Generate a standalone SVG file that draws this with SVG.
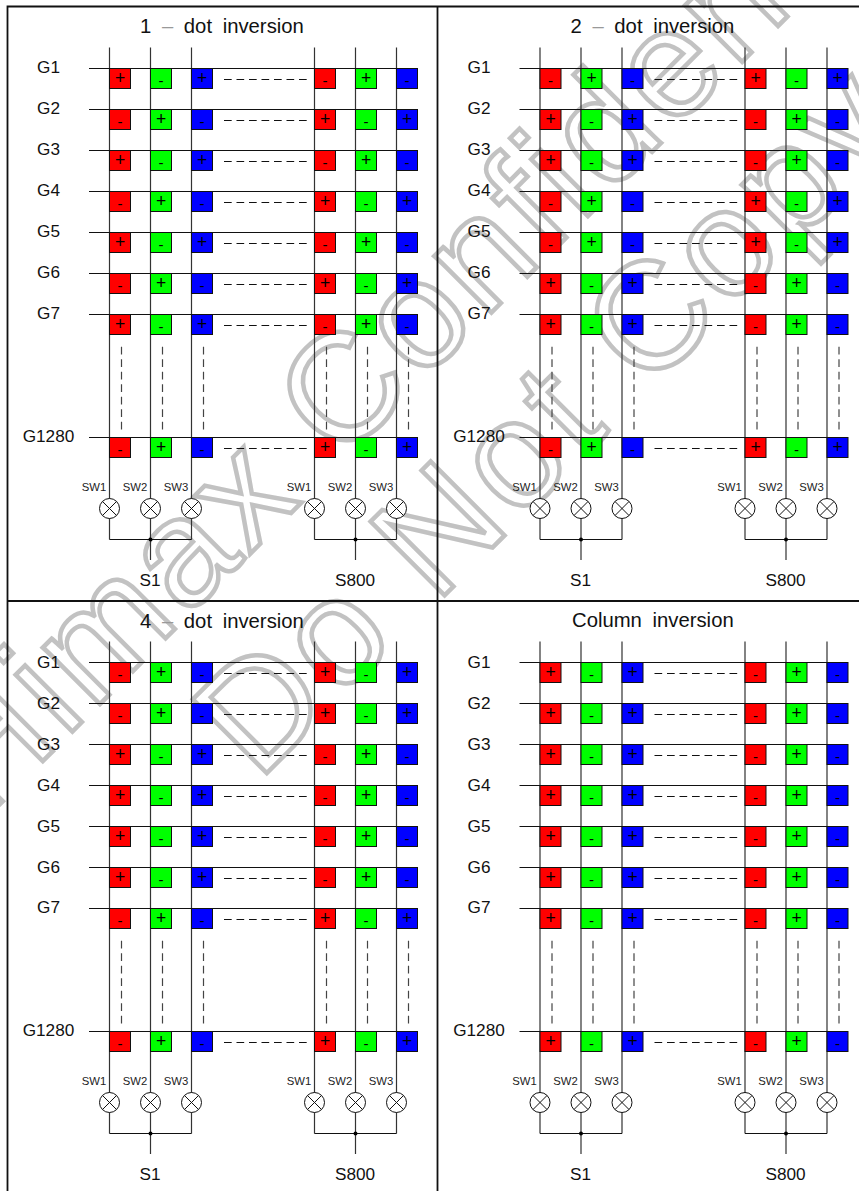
<svg xmlns="http://www.w3.org/2000/svg" width="859" height="1191" viewBox="0 0 859 1191">
<style>
text{font-family:"Liberation Sans",Arial,sans-serif;fill:#111}
.wm{font-size:152px;letter-spacing:5px;fill:none;stroke:#c2c2c2;stroke-width:4.5}
.t{font-size:20.3px;word-spacing:5px}
.d{fill:#999}
.g{font-size:17.2px;text-anchor:middle}
.s{font-size:17.2px;text-anchor:middle}
.w{font-size:11.3px;text-anchor:middle;fill:#222}
.p{font-size:17.5px;text-anchor:middle;fill:#000}
.m{font-size:15px;text-anchor:middle;fill:#000}
.r,.n,.b{stroke:#111;stroke-width:1}
.r{fill:#f00}.n{fill:#0f0}.b{fill:#00f}
.f{stroke:#111;stroke-width:1.8;fill:none}
.h{stroke:#111;stroke-width:1;fill:none}
.v{stroke:#333;stroke-width:1.2;fill:none}
.hd{stroke:#111;stroke-width:1;stroke-dasharray:7.7 4.8;fill:none}
.vd{stroke:#444;stroke-width:1.2;stroke-dasharray:7.7 4.8;fill:none}
.c{fill:#fff;stroke:#111;stroke-width:1}
.x{stroke:#111;stroke-width:1;fill:none}
</style>
<g id="watermark">
<text class="wm" transform="translate(-16 820) rotate(-45)">Himax Confidential</text>
<text class="wm" transform="translate(258 782) rotate(-45)">Do Not Copy</text>
</g>
<g id="frame"><path class="f" d="M859 6.5H7.5V1191M437.5 6.5V1191M7.5 601H859"/></g>

<g id="panelA">
<text id="a-title" class="t" x="140" y="33">1 <tspan class="d">–</tspan> dot inversion</text>
<g id="a-connectors">
<path class="v" d="M109.5 47.5V539.5M150.5 47.5V560M191.5 47.5V539.5M314.5 47.5V539.5M355.5 47.5V560M396.5 47.5V539.5"/>
<path class="h" d="M89 68.5H417M89 109.5H417M89 150.5H417M89 191.5H417M89 232.5H417M89 273.5H417M89 314.5H417M89 437.5H417M109.5 539.5H191.5M314.5 539.5H396.5"/>
<path class="hd" d="M224 79.500H307M224 120.500H307M224 161.500H307M224 202.500H307M224 243.500H307M224 284.500H307M224 325.500H307M224 448.500H307"/>
<path class="vd" d="M121.5 346.7V429.4M162.5 346.7V429.4M203.5 346.7V429.4M326.5 346.7V429.4M367.5 346.7V429.4M408.5 346.7V429.4"/>
<circle cx="150.5" cy="539.5" r="2"/><circle cx="355.5" cy="539.5" r="2"/>
</g>
<g id="a-gates"><text class="g" x="48.5" y="73">G1</text><text class="g" x="48.5" y="114">G2</text><text class="g" x="48.5" y="155">G3</text><text class="g" x="48.5" y="196">G4</text><text class="g" x="48.5" y="237">G5</text><text class="g" x="48.5" y="278">G6</text><text class="g" x="48.5" y="319">G7</text><text class="g" x="48.5" y="442">G1280</text></g>
<g id="a1" transform="translate(0 68.5)"><g id="a1c1"><rect class="r" x="109.5" width="21" height="20"/><text class="p" x="120" y="15.400">+</text></g><g id="a1c2"><rect class="n" x="150.5" width="21" height="20"/><text class="m" x="161" y="17">-</text></g><g id="a1c3"><rect class="b" x="191.5" width="21" height="20"/><text class="p" x="202" y="15.400">+</text></g><g id="a1c4"><rect class="r" x="314.5" width="21" height="20"/><text class="m" x="325" y="17">-</text></g><g id="a1c5"><rect class="n" x="355.5" width="21" height="20"/><text class="p" x="366" y="15.400">+</text></g><g id="a1c6"><rect class="b" x="396.5" width="21" height="20"/><text class="m" x="407" y="17">-</text></g></g>
<g id="a2" transform="translate(0 109.5)"><g id="a2c1"><rect class="r" x="109.5" width="21" height="20"/><text class="m" x="120" y="17">-</text></g><g id="a2c2"><rect class="n" x="150.5" width="21" height="20"/><text class="p" x="161" y="15.400">+</text></g><g id="a2c3"><rect class="b" x="191.5" width="21" height="20"/><text class="m" x="202" y="17">-</text></g><g id="a2c4"><rect class="r" x="314.5" width="21" height="20"/><text class="p" x="325" y="15.400">+</text></g><g id="a2c5"><rect class="n" x="355.5" width="21" height="20"/><text class="m" x="366" y="17">-</text></g><g id="a2c6"><rect class="b" x="396.5" width="21" height="20"/><text class="p" x="407" y="15.400">+</text></g></g>
<g id="a3" transform="translate(0 150.5)"><g id="a3c1"><rect class="r" x="109.5" width="21" height="20"/><text class="p" x="120" y="15.400">+</text></g><g id="a3c2"><rect class="n" x="150.5" width="21" height="20"/><text class="m" x="161" y="17">-</text></g><g id="a3c3"><rect class="b" x="191.5" width="21" height="20"/><text class="p" x="202" y="15.400">+</text></g><g id="a3c4"><rect class="r" x="314.5" width="21" height="20"/><text class="m" x="325" y="17">-</text></g><g id="a3c5"><rect class="n" x="355.5" width="21" height="20"/><text class="p" x="366" y="15.400">+</text></g><g id="a3c6"><rect class="b" x="396.5" width="21" height="20"/><text class="m" x="407" y="17">-</text></g></g>
<g id="a4" transform="translate(0 191.5)"><g id="a4c1"><rect class="r" x="109.5" width="21" height="20"/><text class="m" x="120" y="17">-</text></g><g id="a4c2"><rect class="n" x="150.5" width="21" height="20"/><text class="p" x="161" y="15.400">+</text></g><g id="a4c3"><rect class="b" x="191.5" width="21" height="20"/><text class="m" x="202" y="17">-</text></g><g id="a4c4"><rect class="r" x="314.5" width="21" height="20"/><text class="p" x="325" y="15.400">+</text></g><g id="a4c5"><rect class="n" x="355.5" width="21" height="20"/><text class="m" x="366" y="17">-</text></g><g id="a4c6"><rect class="b" x="396.5" width="21" height="20"/><text class="p" x="407" y="15.400">+</text></g></g>
<g id="a5" transform="translate(0 232.5)"><g id="a5c1"><rect class="r" x="109.5" width="21" height="20"/><text class="p" x="120" y="15.400">+</text></g><g id="a5c2"><rect class="n" x="150.5" width="21" height="20"/><text class="m" x="161" y="17">-</text></g><g id="a5c3"><rect class="b" x="191.5" width="21" height="20"/><text class="p" x="202" y="15.400">+</text></g><g id="a5c4"><rect class="r" x="314.5" width="21" height="20"/><text class="m" x="325" y="17">-</text></g><g id="a5c5"><rect class="n" x="355.5" width="21" height="20"/><text class="p" x="366" y="15.400">+</text></g><g id="a5c6"><rect class="b" x="396.5" width="21" height="20"/><text class="m" x="407" y="17">-</text></g></g>
<g id="a6" transform="translate(0 273.5)"><g id="a6c1"><rect class="r" x="109.5" width="21" height="20"/><text class="m" x="120" y="17">-</text></g><g id="a6c2"><rect class="n" x="150.5" width="21" height="20"/><text class="p" x="161" y="15.400">+</text></g><g id="a6c3"><rect class="b" x="191.5" width="21" height="20"/><text class="m" x="202" y="17">-</text></g><g id="a6c4"><rect class="r" x="314.5" width="21" height="20"/><text class="p" x="325" y="15.400">+</text></g><g id="a6c5"><rect class="n" x="355.5" width="21" height="20"/><text class="m" x="366" y="17">-</text></g><g id="a6c6"><rect class="b" x="396.5" width="21" height="20"/><text class="p" x="407" y="15.400">+</text></g></g>
<g id="a7" transform="translate(0 314.5)"><g id="a7c1"><rect class="r" x="109.5" width="21" height="20"/><text class="p" x="120" y="15.400">+</text></g><g id="a7c2"><rect class="n" x="150.5" width="21" height="20"/><text class="m" x="161" y="17">-</text></g><g id="a7c3"><rect class="b" x="191.5" width="21" height="20"/><text class="p" x="202" y="15.400">+</text></g><g id="a7c4"><rect class="r" x="314.5" width="21" height="20"/><text class="m" x="325" y="17">-</text></g><g id="a7c5"><rect class="n" x="355.5" width="21" height="20"/><text class="p" x="366" y="15.400">+</text></g><g id="a7c6"><rect class="b" x="396.5" width="21" height="20"/><text class="m" x="407" y="17">-</text></g></g>
<g id="a8" transform="translate(0 437.5)"><g id="a8c1"><rect class="r" x="109.5" width="21" height="20"/><text class="m" x="120" y="17">-</text></g><g id="a8c2"><rect class="n" x="150.5" width="21" height="20"/><text class="p" x="161" y="15.400">+</text></g><g id="a8c3"><rect class="b" x="191.5" width="21" height="20"/><text class="m" x="202" y="17">-</text></g><g id="a8c4"><rect class="r" x="314.5" width="21" height="20"/><text class="p" x="325" y="15.400">+</text></g><g id="a8c5"><rect class="n" x="355.5" width="21" height="20"/><text class="m" x="366" y="17">-</text></g><g id="a8c6"><rect class="b" x="396.5" width="21" height="20"/><text class="p" x="407" y="15.400">+</text></g></g>
<g id="a-sw1" transform="translate(109.5 508.5)"><text class="w" x="-15.5" y="-17.5">SW1</text><circle class="c" r="10"/><path class="x" d="M-7-7L7 7M-7 7L7-7"/></g>
<g id="a-sw2" transform="translate(150.5 508.5)"><text class="w" x="-15.5" y="-17.5">SW2</text><circle class="c" r="10"/><path class="x" d="M-7-7L7 7M-7 7L7-7"/></g>
<g id="a-sw3" transform="translate(191.5 508.5)"><text class="w" x="-15.5" y="-17.5">SW3</text><circle class="c" r="10"/><path class="x" d="M-7-7L7 7M-7 7L7-7"/></g>
<g id="a-sw4" transform="translate(314.5 508.5)"><text class="w" x="-15.5" y="-17.5">SW1</text><circle class="c" r="10"/><path class="x" d="M-7-7L7 7M-7 7L7-7"/></g>
<g id="a-sw5" transform="translate(355.5 508.5)"><text class="w" x="-15.5" y="-17.5">SW2</text><circle class="c" r="10"/><path class="x" d="M-7-7L7 7M-7 7L7-7"/></g>
<g id="a-sw6" transform="translate(396.5 508.5)"><text class="w" x="-15.5" y="-17.5">SW3</text><circle class="c" r="10"/><path class="x" d="M-7-7L7 7M-7 7L7-7"/></g>
<text class="s" x="150" y="586">S1</text><text class="s" x="355" y="586">S800</text>
</g>

<g id="panelB" transform="translate(430.5 0)">
<text id="b-title" class="t" x="140" y="33">2 <tspan class="d">–</tspan> dot inversion</text>
<g id="b-connectors">
<path class="v" d="M109.5 47.5V539.5M150.5 47.5V560M191.5 47.5V539.5M314.5 47.5V539.5M355.5 47.5V560M396.5 47.5V539.5"/>
<path class="h" d="M89 68.5H417M89 109.5H417M89 150.5H417M89 191.5H417M89 232.5H417M89 273.5H417M89 314.5H417M89 437.5H417M109.5 539.5H191.5M314.5 539.5H396.5"/>
<path class="hd" d="M224 79.500H307M224 120.500H307M224 161.500H307M224 202.500H307M224 243.500H307M224 284.500H307M224 325.500H307M224 448.500H307"/>
<path class="vd" d="M121.5 346.7V429.4M162.5 346.7V429.4M203.5 346.7V429.4M326.5 346.7V429.4M367.5 346.7V429.4M408.5 346.7V429.4"/>
<circle cx="150.5" cy="539.5" r="2"/><circle cx="355.5" cy="539.5" r="2"/>
</g>
<g id="b-gates"><text class="g" x="48.5" y="73">G1</text><text class="g" x="48.5" y="114">G2</text><text class="g" x="48.5" y="155">G3</text><text class="g" x="48.5" y="196">G4</text><text class="g" x="48.5" y="237">G5</text><text class="g" x="48.5" y="278">G6</text><text class="g" x="48.5" y="319">G7</text><text class="g" x="48.5" y="442">G1280</text></g>
<g id="b1" transform="translate(0 68.5)"><g id="b1c1"><rect class="r" x="109.5" width="21" height="20"/><text class="m" x="120" y="17">-</text></g><g id="b1c2"><rect class="n" x="150.5" width="21" height="20"/><text class="p" x="161" y="15.400">+</text></g><g id="b1c3"><rect class="b" x="191.5" width="21" height="20"/><text class="m" x="202" y="17">-</text></g><g id="b1c4"><rect class="r" x="314.5" width="21" height="20"/><text class="p" x="325" y="15.400">+</text></g><g id="b1c5"><rect class="n" x="355.5" width="21" height="20"/><text class="m" x="366" y="17">-</text></g><g id="b1c6"><rect class="b" x="396.5" width="21" height="20"/><text class="p" x="407" y="15.400">+</text></g></g>
<g id="b2" transform="translate(0 109.5)"><g id="b2c1"><rect class="r" x="109.5" width="21" height="20"/><text class="p" x="120" y="15.400">+</text></g><g id="b2c2"><rect class="n" x="150.5" width="21" height="20"/><text class="m" x="161" y="17">-</text></g><g id="b2c3"><rect class="b" x="191.5" width="21" height="20"/><text class="p" x="202" y="15.400">+</text></g><g id="b2c4"><rect class="r" x="314.5" width="21" height="20"/><text class="m" x="325" y="17">-</text></g><g id="b2c5"><rect class="n" x="355.5" width="21" height="20"/><text class="p" x="366" y="15.400">+</text></g><g id="b2c6"><rect class="b" x="396.5" width="21" height="20"/><text class="m" x="407" y="17">-</text></g></g>
<g id="b3" transform="translate(0 150.5)"><g id="b3c1"><rect class="r" x="109.5" width="21" height="20"/><text class="p" x="120" y="15.400">+</text></g><g id="b3c2"><rect class="n" x="150.5" width="21" height="20"/><text class="m" x="161" y="17">-</text></g><g id="b3c3"><rect class="b" x="191.5" width="21" height="20"/><text class="p" x="202" y="15.400">+</text></g><g id="b3c4"><rect class="r" x="314.5" width="21" height="20"/><text class="m" x="325" y="17">-</text></g><g id="b3c5"><rect class="n" x="355.5" width="21" height="20"/><text class="p" x="366" y="15.400">+</text></g><g id="b3c6"><rect class="b" x="396.5" width="21" height="20"/><text class="m" x="407" y="17">-</text></g></g>
<g id="b4" transform="translate(0 191.5)"><g id="b4c1"><rect class="r" x="109.5" width="21" height="20"/><text class="m" x="120" y="17">-</text></g><g id="b4c2"><rect class="n" x="150.5" width="21" height="20"/><text class="p" x="161" y="15.400">+</text></g><g id="b4c3"><rect class="b" x="191.5" width="21" height="20"/><text class="m" x="202" y="17">-</text></g><g id="b4c4"><rect class="r" x="314.5" width="21" height="20"/><text class="p" x="325" y="15.400">+</text></g><g id="b4c5"><rect class="n" x="355.5" width="21" height="20"/><text class="m" x="366" y="17">-</text></g><g id="b4c6"><rect class="b" x="396.5" width="21" height="20"/><text class="p" x="407" y="15.400">+</text></g></g>
<g id="b5" transform="translate(0 232.5)"><g id="b5c1"><rect class="r" x="109.5" width="21" height="20"/><text class="m" x="120" y="17">-</text></g><g id="b5c2"><rect class="n" x="150.5" width="21" height="20"/><text class="p" x="161" y="15.400">+</text></g><g id="b5c3"><rect class="b" x="191.5" width="21" height="20"/><text class="m" x="202" y="17">-</text></g><g id="b5c4"><rect class="r" x="314.5" width="21" height="20"/><text class="p" x="325" y="15.400">+</text></g><g id="b5c5"><rect class="n" x="355.5" width="21" height="20"/><text class="m" x="366" y="17">-</text></g><g id="b5c6"><rect class="b" x="396.5" width="21" height="20"/><text class="p" x="407" y="15.400">+</text></g></g>
<g id="b6" transform="translate(0 273.5)"><g id="b6c1"><rect class="r" x="109.5" width="21" height="20"/><text class="p" x="120" y="15.400">+</text></g><g id="b6c2"><rect class="n" x="150.5" width="21" height="20"/><text class="m" x="161" y="17">-</text></g><g id="b6c3"><rect class="b" x="191.5" width="21" height="20"/><text class="p" x="202" y="15.400">+</text></g><g id="b6c4"><rect class="r" x="314.5" width="21" height="20"/><text class="m" x="325" y="17">-</text></g><g id="b6c5"><rect class="n" x="355.5" width="21" height="20"/><text class="p" x="366" y="15.400">+</text></g><g id="b6c6"><rect class="b" x="396.5" width="21" height="20"/><text class="m" x="407" y="17">-</text></g></g>
<g id="b7" transform="translate(0 314.5)"><g id="b7c1"><rect class="r" x="109.5" width="21" height="20"/><text class="p" x="120" y="15.400">+</text></g><g id="b7c2"><rect class="n" x="150.5" width="21" height="20"/><text class="m" x="161" y="17">-</text></g><g id="b7c3"><rect class="b" x="191.5" width="21" height="20"/><text class="p" x="202" y="15.400">+</text></g><g id="b7c4"><rect class="r" x="314.5" width="21" height="20"/><text class="m" x="325" y="17">-</text></g><g id="b7c5"><rect class="n" x="355.5" width="21" height="20"/><text class="p" x="366" y="15.400">+</text></g><g id="b7c6"><rect class="b" x="396.5" width="21" height="20"/><text class="m" x="407" y="17">-</text></g></g>
<g id="b8" transform="translate(0 437.5)"><g id="b8c1"><rect class="r" x="109.5" width="21" height="20"/><text class="m" x="120" y="17">-</text></g><g id="b8c2"><rect class="n" x="150.5" width="21" height="20"/><text class="p" x="161" y="15.400">+</text></g><g id="b8c3"><rect class="b" x="191.5" width="21" height="20"/><text class="m" x="202" y="17">-</text></g><g id="b8c4"><rect class="r" x="314.5" width="21" height="20"/><text class="p" x="325" y="15.400">+</text></g><g id="b8c5"><rect class="n" x="355.5" width="21" height="20"/><text class="m" x="366" y="17">-</text></g><g id="b8c6"><rect class="b" x="396.5" width="21" height="20"/><text class="p" x="407" y="15.400">+</text></g></g>
<g id="b-sw1" transform="translate(109.5 508.5)"><text class="w" x="-15.5" y="-17.5">SW1</text><circle class="c" r="10"/><path class="x" d="M-7-7L7 7M-7 7L7-7"/></g>
<g id="b-sw2" transform="translate(150.5 508.5)"><text class="w" x="-15.5" y="-17.5">SW2</text><circle class="c" r="10"/><path class="x" d="M-7-7L7 7M-7 7L7-7"/></g>
<g id="b-sw3" transform="translate(191.5 508.5)"><text class="w" x="-15.5" y="-17.5">SW3</text><circle class="c" r="10"/><path class="x" d="M-7-7L7 7M-7 7L7-7"/></g>
<g id="b-sw4" transform="translate(314.5 508.5)"><text class="w" x="-15.5" y="-17.5">SW1</text><circle class="c" r="10"/><path class="x" d="M-7-7L7 7M-7 7L7-7"/></g>
<g id="b-sw5" transform="translate(355.5 508.5)"><text class="w" x="-15.5" y="-17.5">SW2</text><circle class="c" r="10"/><path class="x" d="M-7-7L7 7M-7 7L7-7"/></g>
<g id="b-sw6" transform="translate(396.5 508.5)"><text class="w" x="-15.5" y="-17.5">SW3</text><circle class="c" r="10"/><path class="x" d="M-7-7L7 7M-7 7L7-7"/></g>
<text class="s" x="150" y="586">S1</text><text class="s" x="355" y="586">S800</text>
</g>

<g id="panelC" transform="translate(0 594)">
<text id="c-title" class="t" x="140" y="34">4 <tspan class="d">–</tspan> dot inversion</text>
<g id="c-connectors">
<path class="v" d="M109.5 47.5V539.5M150.5 47.5V560M191.5 47.5V539.5M314.5 47.5V539.5M355.5 47.5V560M396.5 47.5V539.5"/>
<path class="h" d="M89 68.5H417M89 109.5H417M89 150.5H417M89 191.5H417M89 232.5H417M89 273.5H417M89 314.5H417M89 437.5H417M109.5 539.5H191.5M314.5 539.5H396.5"/>
<path class="hd" d="M224 79.500H307M224 120.500H307M224 161.500H307M224 202.500H307M224 243.500H307M224 284.500H307M224 325.500H307M224 448.500H307"/>
<path class="vd" d="M121.5 346.7V429.4M162.5 346.7V429.4M203.5 346.7V429.4M326.5 346.7V429.4M367.5 346.7V429.4M408.5 346.7V429.4"/>
<circle cx="150.5" cy="539.5" r="2"/><circle cx="355.5" cy="539.5" r="2"/>
</g>
<g id="c-gates"><text class="g" x="48.5" y="74">G1</text><text class="g" x="48.5" y="115">G2</text><text class="g" x="48.5" y="155.500">G3</text><text class="g" x="48.5" y="196.500">G4</text><text class="g" x="48.5" y="237.500">G5</text><text class="g" x="48.5" y="278.500">G6</text><text class="g" x="48.5" y="319">G7</text><text class="g" x="48.5" y="442">G1280</text></g>
<g id="c1" transform="translate(0 68.5)"><g id="c1c1"><rect class="r" x="109.5" width="21" height="20"/><text class="m" x="120" y="17">-</text></g><g id="c1c2"><rect class="n" x="150.5" width="21" height="20"/><text class="p" x="161" y="15.400">+</text></g><g id="c1c3"><rect class="b" x="191.5" width="21" height="20"/><text class="m" x="202" y="17">-</text></g><g id="c1c4"><rect class="r" x="314.5" width="21" height="20"/><text class="p" x="325" y="15.400">+</text></g><g id="c1c5"><rect class="n" x="355.5" width="21" height="20"/><text class="m" x="366" y="17">-</text></g><g id="c1c6"><rect class="b" x="396.5" width="21" height="20"/><text class="p" x="407" y="15.400">+</text></g></g>
<g id="c2" transform="translate(0 109.5)"><g id="c2c1"><rect class="r" x="109.5" width="21" height="20"/><text class="m" x="120" y="17">-</text></g><g id="c2c2"><rect class="n" x="150.5" width="21" height="20"/><text class="p" x="161" y="15.400">+</text></g><g id="c2c3"><rect class="b" x="191.5" width="21" height="20"/><text class="m" x="202" y="17">-</text></g><g id="c2c4"><rect class="r" x="314.5" width="21" height="20"/><text class="p" x="325" y="15.400">+</text></g><g id="c2c5"><rect class="n" x="355.5" width="21" height="20"/><text class="m" x="366" y="17">-</text></g><g id="c2c6"><rect class="b" x="396.5" width="21" height="20"/><text class="p" x="407" y="15.400">+</text></g></g>
<g id="c3" transform="translate(0 150.5)"><g id="c3c1"><rect class="r" x="109.5" width="21" height="20"/><text class="p" x="120" y="15.400">+</text></g><g id="c3c2"><rect class="n" x="150.5" width="21" height="20"/><text class="m" x="161" y="17">-</text></g><g id="c3c3"><rect class="b" x="191.5" width="21" height="20"/><text class="p" x="202" y="15.400">+</text></g><g id="c3c4"><rect class="r" x="314.5" width="21" height="20"/><text class="m" x="325" y="17">-</text></g><g id="c3c5"><rect class="n" x="355.5" width="21" height="20"/><text class="p" x="366" y="15.400">+</text></g><g id="c3c6"><rect class="b" x="396.5" width="21" height="20"/><text class="m" x="407" y="17">-</text></g></g>
<g id="c4" transform="translate(0 191.5)"><g id="c4c1"><rect class="r" x="109.5" width="21" height="20"/><text class="p" x="120" y="15.400">+</text></g><g id="c4c2"><rect class="n" x="150.5" width="21" height="20"/><text class="m" x="161" y="17">-</text></g><g id="c4c3"><rect class="b" x="191.5" width="21" height="20"/><text class="p" x="202" y="15.400">+</text></g><g id="c4c4"><rect class="r" x="314.5" width="21" height="20"/><text class="m" x="325" y="17">-</text></g><g id="c4c5"><rect class="n" x="355.5" width="21" height="20"/><text class="p" x="366" y="15.400">+</text></g><g id="c4c6"><rect class="b" x="396.5" width="21" height="20"/><text class="m" x="407" y="17">-</text></g></g>
<g id="c5" transform="translate(0 232.5)"><g id="c5c1"><rect class="r" x="109.5" width="21" height="20"/><text class="p" x="120" y="15.400">+</text></g><g id="c5c2"><rect class="n" x="150.5" width="21" height="20"/><text class="m" x="161" y="17">-</text></g><g id="c5c3"><rect class="b" x="191.5" width="21" height="20"/><text class="p" x="202" y="15.400">+</text></g><g id="c5c4"><rect class="r" x="314.5" width="21" height="20"/><text class="m" x="325" y="17">-</text></g><g id="c5c5"><rect class="n" x="355.5" width="21" height="20"/><text class="p" x="366" y="15.400">+</text></g><g id="c5c6"><rect class="b" x="396.5" width="21" height="20"/><text class="m" x="407" y="17">-</text></g></g>
<g id="c6" transform="translate(0 273.5)"><g id="c6c1"><rect class="r" x="109.5" width="21" height="20"/><text class="p" x="120" y="15.400">+</text></g><g id="c6c2"><rect class="n" x="150.5" width="21" height="20"/><text class="m" x="161" y="17">-</text></g><g id="c6c3"><rect class="b" x="191.5" width="21" height="20"/><text class="p" x="202" y="15.400">+</text></g><g id="c6c4"><rect class="r" x="314.5" width="21" height="20"/><text class="m" x="325" y="17">-</text></g><g id="c6c5"><rect class="n" x="355.5" width="21" height="20"/><text class="p" x="366" y="15.400">+</text></g><g id="c6c6"><rect class="b" x="396.5" width="21" height="20"/><text class="m" x="407" y="17">-</text></g></g>
<g id="c7" transform="translate(0 314.5)"><g id="c7c1"><rect class="r" x="109.5" width="21" height="20"/><text class="m" x="120" y="17">-</text></g><g id="c7c2"><rect class="n" x="150.5" width="21" height="20"/><text class="p" x="161" y="15.400">+</text></g><g id="c7c3"><rect class="b" x="191.5" width="21" height="20"/><text class="m" x="202" y="17">-</text></g><g id="c7c4"><rect class="r" x="314.5" width="21" height="20"/><text class="p" x="325" y="15.400">+</text></g><g id="c7c5"><rect class="n" x="355.5" width="21" height="20"/><text class="m" x="366" y="17">-</text></g><g id="c7c6"><rect class="b" x="396.5" width="21" height="20"/><text class="p" x="407" y="15.400">+</text></g></g>
<g id="c8" transform="translate(0 437.5)"><g id="c8c1"><rect class="r" x="109.5" width="21" height="20"/><text class="m" x="120" y="17">-</text></g><g id="c8c2"><rect class="n" x="150.5" width="21" height="20"/><text class="p" x="161" y="15.400">+</text></g><g id="c8c3"><rect class="b" x="191.5" width="21" height="20"/><text class="m" x="202" y="17">-</text></g><g id="c8c4"><rect class="r" x="314.5" width="21" height="20"/><text class="p" x="325" y="15.400">+</text></g><g id="c8c5"><rect class="n" x="355.5" width="21" height="20"/><text class="m" x="366" y="17">-</text></g><g id="c8c6"><rect class="b" x="396.5" width="21" height="20"/><text class="p" x="407" y="15.400">+</text></g></g>
<g id="c-sw1" transform="translate(109.5 508.5)"><text class="w" x="-15.5" y="-17.5">SW1</text><circle class="c" r="10"/><path class="x" d="M-7-7L7 7M-7 7L7-7"/></g>
<g id="c-sw2" transform="translate(150.5 508.5)"><text class="w" x="-15.5" y="-17.5">SW2</text><circle class="c" r="10"/><path class="x" d="M-7-7L7 7M-7 7L7-7"/></g>
<g id="c-sw3" transform="translate(191.5 508.5)"><text class="w" x="-15.5" y="-17.5">SW3</text><circle class="c" r="10"/><path class="x" d="M-7-7L7 7M-7 7L7-7"/></g>
<g id="c-sw4" transform="translate(314.5 508.5)"><text class="w" x="-15.5" y="-17.5">SW1</text><circle class="c" r="10"/><path class="x" d="M-7-7L7 7M-7 7L7-7"/></g>
<g id="c-sw5" transform="translate(355.5 508.5)"><text class="w" x="-15.5" y="-17.5">SW2</text><circle class="c" r="10"/><path class="x" d="M-7-7L7 7M-7 7L7-7"/></g>
<g id="c-sw6" transform="translate(396.5 508.5)"><text class="w" x="-15.5" y="-17.5">SW3</text><circle class="c" r="10"/><path class="x" d="M-7-7L7 7M-7 7L7-7"/></g>
<text class="s" x="150" y="586">S1</text><text class="s" x="355" y="586">S800</text>
</g>

<g id="panelD" transform="translate(430.5 594)">
<text id="d-title" class="t" x="141.500" y="33">Column inversion</text>
<g id="d-connectors">
<path class="v" d="M109.5 47.5V539.5M150.5 47.5V560M191.5 47.5V539.5M314.5 47.5V539.5M355.5 47.5V560M396.5 47.5V539.5"/>
<path class="h" d="M89 68.5H417M89 109.5H417M89 150.5H417M89 191.5H417M89 232.5H417M89 273.5H417M89 314.5H417M89 437.5H417M109.5 539.5H191.5M314.5 539.5H396.5"/>
<path class="hd" d="M224 79.500H307M224 120.500H307M224 161.500H307M224 202.500H307M224 243.500H307M224 284.500H307M224 325.500H307M224 448.500H307"/>
<path class="vd" d="M121.5 346.7V429.4M162.5 346.7V429.4M203.5 346.7V429.4M326.5 346.7V429.4M367.5 346.7V429.4M408.5 346.7V429.4"/>
<circle cx="150.5" cy="539.5" r="2"/><circle cx="355.5" cy="539.5" r="2"/>
</g>
<g id="d-gates"><text class="g" x="48.5" y="74">G1</text><text class="g" x="48.5" y="115">G2</text><text class="g" x="48.5" y="155.500">G3</text><text class="g" x="48.5" y="196.500">G4</text><text class="g" x="48.5" y="237.500">G5</text><text class="g" x="48.5" y="278.500">G6</text><text class="g" x="48.5" y="319">G7</text><text class="g" x="48.5" y="442">G1280</text></g>
<g id="d1" transform="translate(0 68.5)"><g id="d1c1"><rect class="r" x="109.5" width="21" height="20"/><text class="p" x="120" y="15.400">+</text></g><g id="d1c2"><rect class="n" x="150.5" width="21" height="20"/><text class="m" x="161" y="17">-</text></g><g id="d1c3"><rect class="b" x="191.5" width="21" height="20"/><text class="p" x="202" y="15.400">+</text></g><g id="d1c4"><rect class="r" x="314.5" width="21" height="20"/><text class="m" x="325" y="17">-</text></g><g id="d1c5"><rect class="n" x="355.5" width="21" height="20"/><text class="p" x="366" y="15.400">+</text></g><g id="d1c6"><rect class="b" x="396.5" width="21" height="20"/><text class="m" x="407" y="17">-</text></g></g>
<g id="d2" transform="translate(0 109.5)"><g id="d2c1"><rect class="r" x="109.5" width="21" height="20"/><text class="p" x="120" y="15.400">+</text></g><g id="d2c2"><rect class="n" x="150.5" width="21" height="20"/><text class="m" x="161" y="17">-</text></g><g id="d2c3"><rect class="b" x="191.5" width="21" height="20"/><text class="p" x="202" y="15.400">+</text></g><g id="d2c4"><rect class="r" x="314.5" width="21" height="20"/><text class="m" x="325" y="17">-</text></g><g id="d2c5"><rect class="n" x="355.5" width="21" height="20"/><text class="p" x="366" y="15.400">+</text></g><g id="d2c6"><rect class="b" x="396.5" width="21" height="20"/><text class="m" x="407" y="17">-</text></g></g>
<g id="d3" transform="translate(0 150.5)"><g id="d3c1"><rect class="r" x="109.5" width="21" height="20"/><text class="p" x="120" y="15.400">+</text></g><g id="d3c2"><rect class="n" x="150.5" width="21" height="20"/><text class="m" x="161" y="17">-</text></g><g id="d3c3"><rect class="b" x="191.5" width="21" height="20"/><text class="p" x="202" y="15.400">+</text></g><g id="d3c4"><rect class="r" x="314.5" width="21" height="20"/><text class="m" x="325" y="17">-</text></g><g id="d3c5"><rect class="n" x="355.5" width="21" height="20"/><text class="p" x="366" y="15.400">+</text></g><g id="d3c6"><rect class="b" x="396.5" width="21" height="20"/><text class="m" x="407" y="17">-</text></g></g>
<g id="d4" transform="translate(0 191.5)"><g id="d4c1"><rect class="r" x="109.5" width="21" height="20"/><text class="p" x="120" y="15.400">+</text></g><g id="d4c2"><rect class="n" x="150.5" width="21" height="20"/><text class="m" x="161" y="17">-</text></g><g id="d4c3"><rect class="b" x="191.5" width="21" height="20"/><text class="p" x="202" y="15.400">+</text></g><g id="d4c4"><rect class="r" x="314.5" width="21" height="20"/><text class="m" x="325" y="17">-</text></g><g id="d4c5"><rect class="n" x="355.5" width="21" height="20"/><text class="p" x="366" y="15.400">+</text></g><g id="d4c6"><rect class="b" x="396.5" width="21" height="20"/><text class="m" x="407" y="17">-</text></g></g>
<g id="d5" transform="translate(0 232.5)"><g id="d5c1"><rect class="r" x="109.5" width="21" height="20"/><text class="p" x="120" y="15.400">+</text></g><g id="d5c2"><rect class="n" x="150.5" width="21" height="20"/><text class="m" x="161" y="17">-</text></g><g id="d5c3"><rect class="b" x="191.5" width="21" height="20"/><text class="p" x="202" y="15.400">+</text></g><g id="d5c4"><rect class="r" x="314.5" width="21" height="20"/><text class="m" x="325" y="17">-</text></g><g id="d5c5"><rect class="n" x="355.5" width="21" height="20"/><text class="p" x="366" y="15.400">+</text></g><g id="d5c6"><rect class="b" x="396.5" width="21" height="20"/><text class="m" x="407" y="17">-</text></g></g>
<g id="d6" transform="translate(0 273.5)"><g id="d6c1"><rect class="r" x="109.5" width="21" height="20"/><text class="p" x="120" y="15.400">+</text></g><g id="d6c2"><rect class="n" x="150.5" width="21" height="20"/><text class="m" x="161" y="17">-</text></g><g id="d6c3"><rect class="b" x="191.5" width="21" height="20"/><text class="p" x="202" y="15.400">+</text></g><g id="d6c4"><rect class="r" x="314.5" width="21" height="20"/><text class="m" x="325" y="17">-</text></g><g id="d6c5"><rect class="n" x="355.5" width="21" height="20"/><text class="p" x="366" y="15.400">+</text></g><g id="d6c6"><rect class="b" x="396.5" width="21" height="20"/><text class="m" x="407" y="17">-</text></g></g>
<g id="d7" transform="translate(0 314.5)"><g id="d7c1"><rect class="r" x="109.5" width="21" height="20"/><text class="p" x="120" y="15.400">+</text></g><g id="d7c2"><rect class="n" x="150.5" width="21" height="20"/><text class="m" x="161" y="17">-</text></g><g id="d7c3"><rect class="b" x="191.5" width="21" height="20"/><text class="p" x="202" y="15.400">+</text></g><g id="d7c4"><rect class="r" x="314.5" width="21" height="20"/><text class="m" x="325" y="17">-</text></g><g id="d7c5"><rect class="n" x="355.5" width="21" height="20"/><text class="p" x="366" y="15.400">+</text></g><g id="d7c6"><rect class="b" x="396.5" width="21" height="20"/><text class="m" x="407" y="17">-</text></g></g>
<g id="d8" transform="translate(0 437.5)"><g id="d8c1"><rect class="r" x="109.5" width="21" height="20"/><text class="p" x="120" y="15.400">+</text></g><g id="d8c2"><rect class="n" x="150.5" width="21" height="20"/><text class="m" x="161" y="17">-</text></g><g id="d8c3"><rect class="b" x="191.5" width="21" height="20"/><text class="p" x="202" y="15.400">+</text></g><g id="d8c4"><rect class="r" x="314.5" width="21" height="20"/><text class="m" x="325" y="17">-</text></g><g id="d8c5"><rect class="n" x="355.5" width="21" height="20"/><text class="p" x="366" y="15.400">+</text></g><g id="d8c6"><rect class="b" x="396.5" width="21" height="20"/><text class="m" x="407" y="17">-</text></g></g>
<g id="d-sw1" transform="translate(109.5 508.5)"><text class="w" x="-15.5" y="-17.5">SW1</text><circle class="c" r="10"/><path class="x" d="M-7-7L7 7M-7 7L7-7"/></g>
<g id="d-sw2" transform="translate(150.5 508.5)"><text class="w" x="-15.5" y="-17.5">SW2</text><circle class="c" r="10"/><path class="x" d="M-7-7L7 7M-7 7L7-7"/></g>
<g id="d-sw3" transform="translate(191.5 508.5)"><text class="w" x="-15.5" y="-17.5">SW3</text><circle class="c" r="10"/><path class="x" d="M-7-7L7 7M-7 7L7-7"/></g>
<g id="d-sw4" transform="translate(314.5 508.5)"><text class="w" x="-15.5" y="-17.5">SW1</text><circle class="c" r="10"/><path class="x" d="M-7-7L7 7M-7 7L7-7"/></g>
<g id="d-sw5" transform="translate(355.5 508.5)"><text class="w" x="-15.5" y="-17.5">SW2</text><circle class="c" r="10"/><path class="x" d="M-7-7L7 7M-7 7L7-7"/></g>
<g id="d-sw6" transform="translate(396.5 508.5)"><text class="w" x="-15.5" y="-17.5">SW3</text><circle class="c" r="10"/><path class="x" d="M-7-7L7 7M-7 7L7-7"/></g>
<text class="s" x="150" y="586">S1</text><text class="s" x="355" y="586">S800</text>
</g>
</svg>
